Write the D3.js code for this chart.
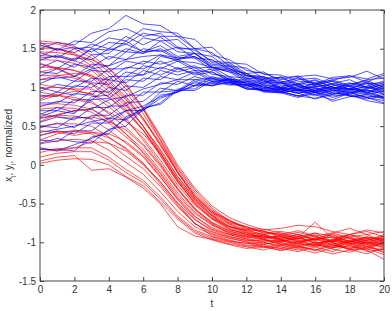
<!DOCTYPE html>
<html>
<head>
<meta charset="utf-8">
<script src="https://cdn.jsdelivr.net/npm/d3@7"></script>
<style>
body { margin: 0; background: #fff; }
text { font-family: "Liberation Sans", Arial, sans-serif; }
</style>
</head>
<body>
<div id="chart-area"></div>
<script>
const MARGIN = { LEFT: 40, RIGHT: 8, TOP: 10, BOTTOM: 30 }
const WIDTH = 392 - MARGIN.LEFT - MARGIN.RIGHT
const HEIGHT = 311 - MARGIN.TOP - MARGIN.BOTTOM

const tSteps = [0, 1, 2, 3, 4, 5, 6, 7, 8, 9, 10, 11, 12, 13, 14, 15, 16, 17, 18, 19, 20]
const xTicks = [0, 2, 4, 6, 8, 10, 12, 14, 16, 18, 20]
const yTicks = [-1.5, -1, -0.5, 0, 0.5, 1, 1.5, 2]

// x_i (blue), one row per agent, values at t = 0..20
const blueSeries = [
	[1.55, 1.48, 1.6, 1.58, 1.72, 1.76, 1.66, 1.7, 1.52, 1.48, 1.34, 1.32, 1.18, 1.2, 1.08, 1.05, 1.1, 1.0, 0.98, 1.07, 1.0],
	[1.5, 1.58, 1.55, 1.7, 1.76, 1.93, 1.82, 1.8, 1.66, 1.62, 1.42, 1.36, 1.22, 1.18, 1.1, 1.15, 1.04, 1.1, 1.02, 1.1, 1.12],
	[1.45, 1.38, 1.5, 1.52, 1.64, 1.6, 1.76, 1.72, 1.7, 1.5, 1.45, 1.28, 1.25, 1.12, 1.12, 1.05, 1.03, 1.08, 0.97, 0.98, 1.04],
	[1.4, 1.5, 1.45, 1.56, 1.5, 1.66, 1.55, 1.65, 1.5, 1.5, 1.32, 1.3, 1.16, 1.14, 1.04, 1.12, 1.02, 0.98, 1.05, 1.06, 0.97],
	[1.35, 1.42, 1.36, 1.5, 1.48, 1.56, 1.46, 1.54, 1.4, 1.44, 1.28, 1.27, 1.15, 1.12, 1.02, 1.04, 0.96, 1.05, 1.1, 1.0, 0.96],
	[1.3, 1.24, 1.38, 1.36, 1.5, 1.46, 1.64, 1.6, 1.62, 1.44, 1.4, 1.24, 1.18, 1.05, 1.14, 1.02, 1.0, 0.94, 1.02, 1.05, 1.06],
	[1.25, 1.35, 1.26, 1.42, 1.44, 1.6, 1.46, 1.48, 1.36, 1.4, 1.26, 1.22, 1.1, 1.08, 1.0, 1.1, 1.12, 1.04, 0.96, 1.02, 1.08],
	[1.2, 1.18, 1.3, 1.26, 1.4, 1.36, 1.5, 1.46, 1.52, 1.38, 1.36, 1.22, 1.18, 1.08, 1.06, 0.96, 1.03, 1.08, 1.02, 0.94, 1.02],
	[1.15, 1.24, 1.14, 1.3, 1.28, 1.46, 1.44, 1.6, 1.46, 1.44, 1.26, 1.25, 1.12, 1.1, 0.98, 1.05, 0.95, 1.02, 1.06, 1.0, 0.95],
	[1.1, 1.12, 1.14, 1.24, 1.28, 1.36, 1.4, 1.42, 1.34, 1.32, 1.26, 1.2, 1.15, 1.1, 1.08, 0.98, 1.06, 0.98, 0.93, 0.99, 1.04],
	[1.05, 1.14, 1.08, 1.22, 1.2, 1.34, 1.3, 1.42, 1.38, 1.4, 1.26, 1.2, 1.08, 1.06, 1.06, 1.03, 0.94, 0.99, 1.04, 1.09, 1.0],
	[1.0, 0.94, 1.08, 1.08, 1.24, 1.24, 1.34, 1.3, 1.36, 1.25, 1.26, 1.14, 1.12, 1.03, 1.0, 1.03, 1.09, 1.0, 0.97, 0.92, 1.03],
	[0.95, 1.04, 1.0, 1.12, 1.1, 1.26, 1.24, 1.34, 1.24, 1.28, 1.17, 1.14, 1.05, 1.04, 0.98, 0.96, 1.01, 1.04, 0.98, 1.05, 0.91],
	[0.9, 0.88, 1.02, 1.0, 1.14, 1.14, 1.28, 1.24, 1.34, 1.22, 1.2, 1.1, 1.08, 0.98, 1.06, 0.97, 0.93, 0.98, 1.02, 1.0, 1.06],
	[0.85, 0.94, 0.9, 1.06, 1.04, 1.2, 1.16, 1.26, 1.2, 1.26, 1.12, 1.12, 1.02, 1.1, 1.0, 0.97, 1.01, 1.05, 1.01, 0.93, 0.99],
	[0.8, 0.8, 0.92, 0.9, 1.1, 1.06, 1.22, 1.16, 1.26, 1.16, 1.2, 1.08, 1.06, 0.98, 0.98, 1.01, 0.99, 0.91, 0.97, 1.01, 0.98],
	[0.75, 0.82, 0.8, 0.95, 0.94, 1.1, 1.08, 1.22, 1.16, 1.22, 1.1, 1.1, 1.0, 1.06, 0.99, 0.95, 0.97, 1.01, 0.94, 0.91, 0.95],
	[0.7, 0.7, 0.84, 0.84, 1.0, 0.96, 1.12, 1.1, 1.24, 1.18, 1.24, 1.1, 1.1, 1.0, 0.97, 0.99, 1.05, 0.96, 0.94, 0.97, 0.91],
	[0.65, 0.74, 0.68, 0.84, 0.86, 1.02, 1.0, 1.14, 1.1, 1.2, 1.08, 1.08, 0.98, 0.99, 1.0, 0.97, 0.89, 0.96, 0.99, 0.94, 0.87],
	[0.6, 0.64, 0.7, 0.72, 0.84, 0.88, 0.98, 1.04, 1.1, 1.1, 1.12, 1.04, 1.03, 0.95, 0.93, 0.97, 0.95, 0.87, 0.93, 0.96, 0.94],
	[0.55, 0.62, 0.58, 0.74, 0.74, 0.9, 0.9, 1.06, 1.04, 1.14, 1.08, 1.1, 0.98, 0.97, 0.97, 0.93, 0.95, 1.01, 0.89, 0.87, 0.91],
	[0.5, 0.48, 0.62, 0.6, 0.76, 0.76, 0.94, 0.94, 1.08, 1.02, 1.14, 1.08, 1.06, 0.96, 0.95, 0.89, 0.96, 0.91, 0.99, 0.93, 0.86],
	[0.48, 0.54, 0.48, 0.64, 0.64, 0.8, 0.82, 0.99, 0.96, 1.06, 1.02, 1.12, 1.04, 1.02, 0.94, 0.89, 0.91, 0.97, 0.89, 0.85, 0.89],
	[0.42, 0.46, 0.5, 0.56, 0.6, 0.7, 0.76, 0.88, 0.94, 1.03, 1.05, 1.06, 1.03, 0.96, 0.94, 0.96, 0.91, 0.84, 0.93, 0.87, 0.83],
	[0.38, 0.44, 0.4, 0.54, 0.54, 0.7, 0.7, 0.9, 0.94, 1.08, 1.02, 1.07, 0.98, 0.96, 0.97, 0.93, 0.85, 0.91, 0.94, 0.87, 0.8],
	[0.32, 0.3, 0.44, 0.44, 0.6, 0.58, 0.74, 0.78, 0.96, 0.96, 1.08, 1.03, 1.04, 0.94, 0.93, 0.87, 0.94, 0.82, 0.88, 0.91, 0.85],
	[0.28, 0.34, 0.3, 0.28, 0.46, 0.5, 0.72, 0.8, 0.98, 0.98, 1.12, 1.06, 1.08, 1.0, 0.98, 0.92, 0.99, 0.93, 0.89, 0.89, 0.87],
	[0.22, 0.18, 0.26, 0.34, 0.44, 0.6, 0.7, 0.86, 0.94, 1.02, 1.03, 1.06, 1.0, 0.96, 0.95, 0.89, 0.86, 0.93, 0.91, 0.83, 0.79],
	[0.2, 0.2, 0.18, 0.36, 0.4, 0.62, 0.72, 0.94, 0.96, 1.1, 1.06, 1.1, 1.02, 1.02, 0.95, 1.01, 0.93, 0.89, 0.91, 0.97, 0.87],
	[1.58, 1.48, 1.52, 1.46, 1.58, 1.56, 1.7, 1.66, 1.66, 1.5, 1.52, 1.32, 1.3, 1.17, 1.16, 1.08, 1.06, 1.09, 1.15, 1.07, 1.16],
	[1.38, 1.4, 1.34, 1.5, 1.36, 1.5, 1.44, 1.5, 1.38, 1.38, 1.22, 1.24, 1.12, 1.12, 1.13, 1.14, 1.16, 1.11, 1.13, 1.21, 1.11],
	[0.62, 0.7, 0.66, 0.88, 0.9, 1.14, 1.16, 1.4, 1.36, 1.44, 1.3, 1.28, 1.15, 1.14, 1.06, 1.13, 1.04, 1.13, 1.15, 1.11, 1.18]
]

// y_i (red), one row per agent, values at t = 0..20
const redSeries = [
	[1.6, 1.58, 1.53, 1.42, 1.24, 1.02, 0.74, 0.38, 0.0, -0.3, -0.53, -0.68, -0.77, -0.84, -0.82, -0.78, -0.8, -0.86, -0.9, -0.84, -0.88],
	[1.57, 1.56, 1.5, 1.38, 1.2, 0.98, 0.72, 0.36, -0.03, -0.32, -0.56, -0.72, -0.8, -0.86, -0.9, -0.85, -0.92, -0.88, -0.82, -0.9, -0.86],
	[1.54, 1.5, 1.42, 1.28, 1.1, 0.88, 0.6, 0.25, -0.1, -0.4, -0.6, -0.71, -0.82, -0.83, -0.88, -0.93, -0.74, -0.95, -0.9, -0.86, -0.93],
	[1.5, 1.5, 1.44, 1.33, 1.15, 0.93, 0.66, 0.32, -0.05, -0.35, -0.58, -0.74, -0.8, -0.88, -0.86, -0.9, -0.96, -0.88, -0.94, -0.98, -0.9],
	[1.46, 1.45, 1.42, 1.36, 1.25, 1.05, 0.72, 0.32, -0.1, -0.42, -0.62, -0.72, -0.83, -0.86, -0.92, -0.87, -0.93, -0.98, -0.9, -0.95, -1.0],
	[1.41, 1.4, 1.35, 1.26, 1.07, 0.86, 0.6, 0.28, -0.08, -0.38, -0.6, -0.75, -0.8, -0.88, -0.9, -0.95, -0.88, -0.92, -0.99, -0.93, -0.96],
	[1.36, 1.35, 1.31, 1.22, 1.04, 0.84, 0.58, 0.26, -0.1, -0.4, -0.62, -0.76, -0.84, -0.85, -0.94, -0.9, -0.98, -0.9, -0.95, -1.02, -0.92],
	[1.31, 1.25, 1.15, 1.05, 0.92, 0.72, 0.45, 0.12, -0.22, -0.48, -0.68, -0.8, -0.85, -0.9, -0.88, -0.96, -0.92, -1.0, -0.93, -0.9, -0.99],
	[1.26, 1.26, 1.22, 1.13, 0.95, 0.76, 0.5, 0.2, -0.15, -0.43, -0.64, -0.77, -0.86, -0.92, -0.95, -0.9, -0.97, -0.93, -1.04, -0.96, -0.94],
	[1.2, 1.25, 1.22, 1.15, 1.0, 0.78, 0.5, 0.18, -0.15, -0.44, -0.65, -0.8, -0.84, -0.9, -0.97, -0.93, -0.88, -0.99, -0.95, -1.0, -1.05],
	[1.15, 1.16, 1.12, 1.04, 0.87, 0.68, 0.45, 0.15, -0.19, -0.46, -0.66, -0.79, -0.87, -0.95, -0.91, -0.99, -0.95, -0.9, -1.0, -0.94, -0.97],
	[1.1, 1.15, 1.18, 1.16, 1.02, 0.8, 0.5, 0.15, -0.2, -0.5, -0.7, -0.8, -0.88, -0.9, -0.96, -0.92, -1.02, -0.97, -0.9, -0.98, -1.02],
	[1.04, 1.0, 0.98, 0.98, 0.88, 0.7, 0.45, 0.12, -0.22, -0.5, -0.69, -0.82, -0.9, -0.93, -0.98, -0.95, -0.9, -1.05, -0.98, -0.93, -0.99],
	[0.99, 1.0, 0.97, 0.91, 0.75, 0.57, 0.35, 0.06, -0.26, -0.52, -0.7, -0.84, -0.88, -0.94, -0.92, -1.0, -0.96, -0.93, -1.02, -0.97, -0.92],
	[0.94, 0.9, 0.84, 0.8, 0.68, 0.56, 0.4, 0.15, -0.18, -0.46, -0.66, -0.83, -0.9, -0.96, -0.99, -0.94, -1.01, -0.98, -0.92, -1.06, -0.97],
	[0.88, 0.9, 0.87, 0.82, 0.66, 0.48, 0.27, 0.0, -0.31, -0.57, -0.74, -0.85, -0.92, -0.91, -0.96, -1.02, -0.94, -0.99, -1.0, -0.95, -1.03],
	[0.83, 0.9, 0.95, 0.92, 0.8, 0.6, 0.32, 0.02, -0.3, -0.56, -0.75, -0.86, -0.9, -0.95, -0.93, -0.97, -1.04, -0.96, -0.98, -1.03, -0.96],
	[0.77, 0.79, 0.77, 0.72, 0.58, 0.4, 0.2, -0.07, -0.36, -0.61, -0.77, -0.87, -0.93, -0.97, -1.0, -0.95, -0.99, -1.06, -0.97, -1.0, -1.04],
	[0.72, 0.74, 0.73, 0.68, 0.54, 0.36, 0.17, -0.1, -0.39, -0.63, -0.78, -0.88, -0.94, -0.92, -0.97, -1.01, -0.96, -1.0, -1.07, -0.99, -0.95],
	[0.66, 0.62, 0.6, 0.62, 0.56, 0.45, 0.25, -0.02, -0.32, -0.58, -0.76, -0.89, -0.92, -0.96, -1.03, -0.98, -1.05, -0.97, -1.01, -1.08, -1.0],
	[0.61, 0.64, 0.63, 0.59, 0.45, 0.28, 0.1, -0.16, -0.44, -0.67, -0.81, -0.9, -0.95, -0.99, -0.97, -1.04, -1.0, -1.08, -0.99, -1.02, -1.06],
	[0.56, 0.65, 0.7, 0.72, 0.6, 0.4, 0.15, -0.12, -0.42, -0.66, -0.83, -0.9, -0.96, -1.0, -1.05, -0.99, -0.96, -1.03, -1.09, -1.0, -1.02],
	[0.5, 0.53, 0.53, 0.5, 0.36, 0.2, 0.02, -0.22, -0.49, -0.71, -0.84, -0.92, -0.98, -0.97, -1.02, -1.07, -1.01, -0.98, -1.04, -1.1, -1.0],
	[0.44, 0.42, 0.38, 0.42, 0.4, 0.3, 0.12, -0.15, -0.45, -0.7, -0.86, -0.93, -0.97, -1.02, -1.0, -1.05, -1.1, -1.02, -0.99, -1.06, -1.12],
	[0.38, 0.43, 0.43, 0.4, 0.28, 0.11, -0.05, -0.28, -0.54, -0.76, -0.87, -0.94, -1.0, -1.03, -0.98, -1.02, -1.06, -1.12, -1.03, -1.0, -1.08],
	[0.32, 0.4, 0.45, 0.42, 0.35, 0.22, 0.02, -0.25, -0.52, -0.76, -0.89, -0.95, -0.99, -1.05, -1.08, -1.01, -1.04, -1.0, -1.1, -1.05, -1.02],
	[0.27, 0.31, 0.33, 0.31, 0.19, 0.03, -0.12, -0.35, -0.6, -0.8, -0.9, -0.97, -1.02, -1.0, -1.06, -1.1, -1.03, -1.07, -1.01, -1.12, -1.09],
	[0.21, 0.18, 0.22, 0.3, 0.28, 0.18, 0.0, -0.22, -0.5, -0.75, -0.92, -0.98, -1.04, -1.07, -1.02, -1.05, -1.11, -1.04, -1.08, -1.03, -1.14],
	[0.16, 0.21, 0.22, 0.22, 0.1, -0.06, -0.2, -0.41, -0.66, -0.84, -0.93, -0.99, -1.01, -1.06, -1.1, -1.04, -1.02, -1.09, -1.13, -1.06, -1.1],
	[0.1, 0.15, 0.17, 0.17, 0.06, -0.1, -0.23, -0.44, -0.68, -0.86, -0.95, -1.0, -1.05, -1.03, -1.08, -1.12, -1.06, -1.02, -1.09, -1.15, -1.07],
	[0.05, 0.1, 0.12, -0.07, -0.05, -0.16, -0.3, -0.5, -0.8, -0.92, -0.96, -1.02, -1.06, -1.1, -1.04, -1.08, -1.14, -1.07, -1.05, -1.1, -1.22],
	[0.02, 0.06, 0.08, 0.07, 0.0, -0.15, -0.27, -0.48, -0.7, -0.88, -0.97, -1.03, -1.08, -1.05, -1.11, -1.06, -1.09, -1.15, -1.1, -1.08, -1.16]
]

const svg = d3.select('#chart-area')
	.append("svg")
	.attr("width", WIDTH + MARGIN.LEFT + MARGIN.RIGHT)
	.attr("height", HEIGHT + MARGIN.TOP + MARGIN.BOTTOM)

const chart = svg.append("g")
	.attr("transform", `translate(${MARGIN.LEFT}, ${MARGIN.TOP})`)

const x = d3.scaleLinear().domain([0, 20]).range([0, WIDTH])
const y = d3.scaleLinear().domain([-1.5, 2]).range([HEIGHT, 0])

const line = d3.line()
	.x((d, i) => x(tSteps[i]))
	.y(d => y(d))

// x_i and y_i of each agent drawn one after the other
const pairs = []
blueSeries.forEach((row, i) => {
	pairs.push({ color: "#0000ff", values: row })
	if (redSeries[i]) pairs.push({ color: "#ff0000", values: redSeries[i] })
})

chart.selectAll("path.agent")
	.data(pairs)
	.enter()
	.append("path")
	.attr("class", "agent")
	.attr("d", d => line(d.values))
	.attr("fill", "none")
	.attr("stroke", d => d.color)
	.attr("stroke-width", 0.8)
	.attr("stroke-opacity", 0.85)

// axes, ticks pointing inwards on all four sides
const AXIS_COLOR = "#444"

const xAxis = chart.append("g")
	.attr("transform", "translate(0," + HEIGHT + ")")
	.call(d3.axisBottom(x).tickValues(xTicks).tickSizeInner(-4).tickSizeOuter(0).tickPadding(5).tickFormat(d => String(d)))
const yAxis = chart.append("g")
	.call(d3.axisLeft(y).tickValues(yTicks).tickSizeInner(-4).tickSizeOuter(0).tickPadding(4).tickFormat(d => String(d)))
const topAxis = chart.append("g")
	.call(d3.axisTop(x).tickValues(xTicks).tickSizeInner(-4).tickSizeOuter(0).tickFormat(""))
const rightAxis = chart.append("g")
	.attr("transform", "translate(" + WIDTH + ",0)")
	.call(d3.axisRight(y).tickValues(yTicks).tickSizeInner(-4).tickSizeOuter(0).tickFormat(""))

chart.selectAll(".domain").remove()
chart.selectAll(".tick line").attr("stroke", AXIS_COLOR)
chart.selectAll(".tick text")
	.attr("fill", "#333")
	.style("font-size", "10px")
	.style("font-family", "'Liberation Sans', Arial, sans-serif")

chart.append("rect")
	.attr("width", WIDTH)
	.attr("height", HEIGHT)
	.attr("fill", "none")
	.attr("stroke", AXIS_COLOR)
	.attr("stroke-width", 1)

// axis labels
chart.append("text")
	.attr("x", WIDTH / 2)
	.attr("y", HEIGHT + 26)
	.attr("text-anchor", "middle")
	.attr("fill", "#333")
	.style("font-size", "10px")
	.text("t")

const yLabel = chart.append("text")
	.attr("transform", "translate(" + (-28) + "," + (HEIGHT / 2) + ") rotate(-90)")
	.attr("text-anchor", "middle")
	.attr("fill", "#333")
	.style("font-size", "10px")
yLabel.append("tspan").text("x")
yLabel.append("tspan").attr("baseline-shift", "sub").style("font-size", "7px").text("i")
yLabel.append("tspan").text(", y")
yLabel.append("tspan").attr("baseline-shift", "sub").style("font-size", "7px").text("i")
yLabel.append("tspan").text(", normalized")
</script>
</body>
</html>
